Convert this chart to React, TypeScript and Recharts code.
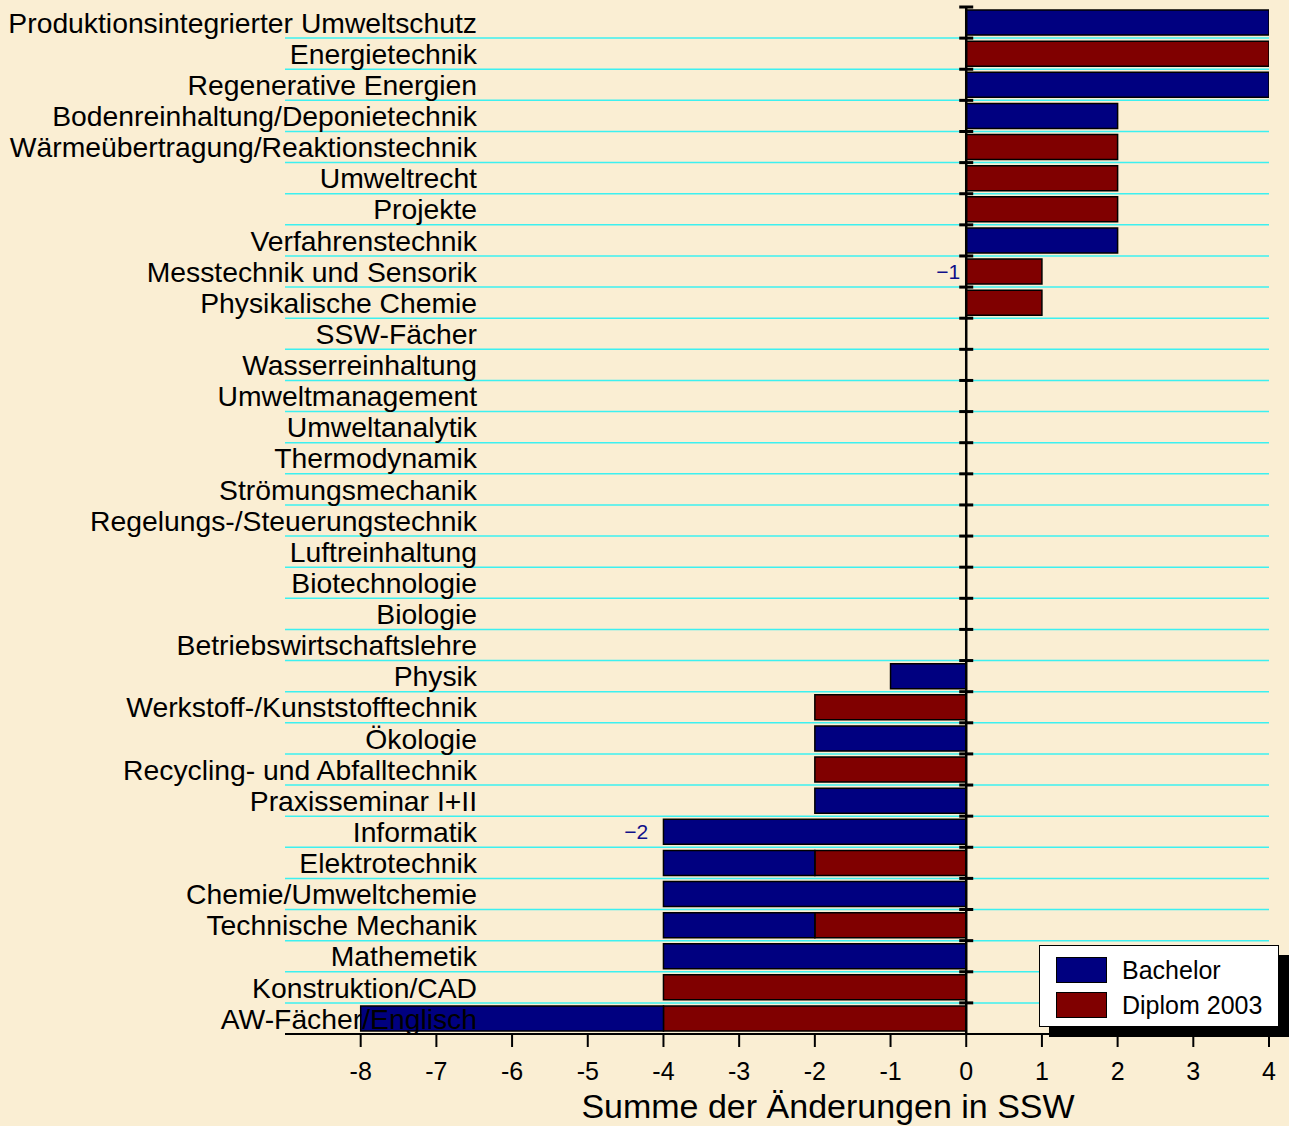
import {
  Bar,
  BarChart,
  CartesianGrid,
  Label,
  Legend,
  ReferenceDot,
  ReferenceLine,
  XAxis,
  YAxis,
} from "recharts"

const categories = [
  "Produktionsintegrierter Umweltschutz",
  "Energietechnik",
  "Regenerative Energien",
  "Bodenreinhaltung/Deponietechnik",
  "Wärmeübertragung/Reaktionstechnik",
  "Umweltrecht",
  "Projekte",
  "Verfahrenstechnik",
  "Messtechnik und Sensorik",
  "Physikalische Chemie",
  "SSW-Fächer",
  "Wasserreinhaltung",
  "Umweltmanagement",
  "Umweltanalytik",
  "Thermodynamik",
  "Strömungsmechanik",
  "Regelungs-/Steuerungstechnik",
  "Luftreinhaltung",
  "Biotechnologie",
  "Biologie",
  "Betriebswirtschaftslehre",
  "Physik",
  "Werkstoff-/Kunststofftechnik",
  "Ökologie",
  "Recycling- und Abfalltechnik",
  "Praxisseminar I+II",
  "Informatik",
  "Elektrotechnik",
  "Chemie/Umweltchemie",
  "Technische Mechanik",
  "Mathemetik",
  "Konstruktion/CAD",
  "AW-Fächer/Englisch",
]

// Bachelor is stacked outside the Diplom 2003 part
const bachelor = [4, 0, 4, 2, 0, 0, 0, 2, 0, 0, 0, 0, 0, 0, 0, 0, 0, 0, 0, 0, 0, -1, 0, -2, 0, -2, -4, -2, -4, -2, -4, 0, -4]
const diplom = [0, 4, 0, 0, 2, 2, 2, 0, 1, 1, 0, 0, 0, 0, 0, 0, 0, 0, 0, 0, 0, 0, -2, 0, -2, 0, 0, -2, 0, -2, 0, -4, -4]

const xTicks = [-8, -7, -6, -5, -4, -3, -2, -1, 0, 1, 2, 3, 4]

const notes = [
  { name: "Messtechnik und Sensorik", x: -0.08, text: "\u22121" },
  { name: "Informatik", x: -4.2, text: "\u22122" },
]

const legendItems = [
  { name: "Bachelor", color: "#000080" },
  { name: "Diplom 2003", color: "#800000" },
]

const TITLE = "Summe der Änderungen in SSW"
const FONT = '"Liberation Sans", Arial, sans-serif'

const data = categories.map((name, i) => ({ name, bachelor: bachelor[i], diplom: diplom[i] }))

function CategoryTick({ y, payload }: any) {
  return (
    <text x={477} y={y} dy="0.36em" textAnchor="end" fontSize={28.3} fontFamily={FONT} fill="#000">
      {payload.value}
    </text>
  )
}

function ZeroAxis(props: any) {
  const top = Math.min(props.y1, props.y2)
  const bottom = Math.max(props.y1, props.y2)
  const x = props.x1
  const step = (bottom - top) / categories.length
  const marks = categories.map((_, i) => top + i * step)
  return (
    <g>
      <line x1={x} x2={x} y1={top} y2={bottom} stroke="#000" strokeWidth={2.5} />
      {marks.map((m) => (
        <line key={m} x1={x - 7} x2={x + 7} y1={m} y2={m} stroke="#000" strokeWidth={3} />
      ))}
    </g>
  )
}

function LegendBox() {
  return (
    <div
      style={{
        position: "relative",
        width: 240,
        height: 82,
        boxSizing: "border-box",
        background: "#fff",
        border: "1px solid #000",
        boxShadow: "10px 10px 0 #000",
        fontFamily: FONT,
        fontSize: 25,
        color: "#000",
      }}
    >
      {legendItems.map((item, i) => (
        <div key={item.name} style={{ position: "absolute", left: 16, top: 11 + i * 35, display: "flex", alignItems: "center" }}>
          <span
            style={{
              display: "inline-block",
              width: 51,
              height: 26,
              boxSizing: "border-box",
              background: item.color,
              border: "1.5px solid #000",
              marginRight: 15,
            }}
          />
          <span style={{ lineHeight: "26px" }}>{item.name}</span>
        </div>
      ))}
    </div>
  )
}

export default function App() {
  const n = categories.length
  return (
    <div style={{ position: "absolute", left: 0, top: 0, width: 1289, height: 1126, background: "#faeed3" }}>
      <BarChart
        layout="vertical"
        width={1289}
        height={1126}
        data={data}
        margin={{ top: 7, right: 20, bottom: 12, left: 284 }}
        barCategoryGap="10%"
        stackOffset="sign"
      >
        <CartesianGrid
          vertical={false}
          stroke="#3cf0f0"
          strokeWidth={1.5}
          horizontalCoordinatesGenerator={({ offset }: any) =>
            Array.from({ length: n - 1 }, (_, i) => offset.top + ((i + 1) * offset.height) / n)
          }
        />
        <Bar dataKey="diplom" name="Diplom 2003" stackId="s" fill="#800000" stroke="#000" strokeWidth={1.5} isAnimationActive={false} />
        <Bar dataKey="bachelor" name="Bachelor" stackId="s" fill="#000080" stroke="#000" strokeWidth={1.5} isAnimationActive={false} />
        <ReferenceLine x={0} shape={ZeroAxis} />
        {notes.map((note) => (
          <ReferenceDot
            key={note.name}
            x={note.x}
            y={note.name}
            r={0}
            shape={(p: any) => (
              <text x={p.cx} y={p.cy} dy="0.36em" textAnchor="end" fontSize={21} fontFamily={FONT} fill="#10108a">
                {note.text}
              </text>
            )}
          />
        ))}
        <XAxis
          type="number"
          domain={[-9, 4]}
          ticks={xTicks}
          allowDataOverflow
          height={80}
          axisLine={{ stroke: "#000", strokeWidth: 2 }}
          tickLine={{ stroke: "#000", strokeWidth: 2 }}
          tickSize={13}
          tickMargin={15}
          tick={{ fill: "#000", fontSize: 25, fontFamily: FONT }}
        >
          <Label
            content={(p: any) => (
              <text
                x={p.viewBox.x + p.viewBox.width / 2 + 51}
                y={p.viewBox.y + 84}
                textAnchor="middle"
                fontSize={34}
                fontFamily={FONT}
                fill="#000"
              >
                {TITLE}
              </text>
            )}
          />
        </XAxis>
        <YAxis type="category" dataKey="name" width={1} interval={0} axisLine={false} tickLine={false} tick={CategoryTick} />
        <Legend
          verticalAlign="middle"
          align="center"
          content={() => <LegendBox />}
          wrapperStyle={{ left: 1039, top: 945, width: 240, height: 82 }}
        />
      </BarChart>
    </div>
  )
}
